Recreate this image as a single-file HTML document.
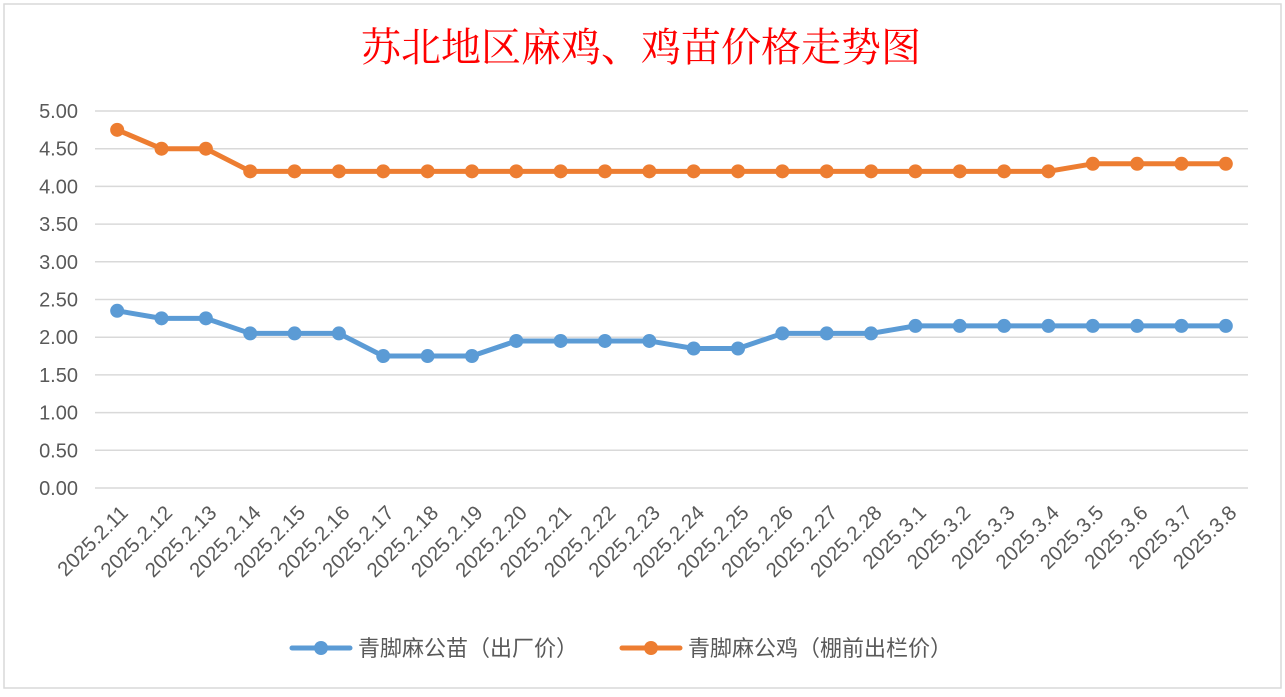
<!DOCTYPE html>
<html><head><meta charset="utf-8"><style>
body{margin:0;background:#fff;width:1285px;height:692px;overflow:hidden}
svg text{font-family:"Liberation Sans","Noto Sans CJK SC",sans-serif}
</style></head><body>
<svg id="c" width="1285" height="692">
<rect x="4" y="4" width="1277" height="684" fill="#fff" stroke="#d9d9d9" stroke-width="1.5"/>
<text x="641" y="61" text-anchor="middle" font-size="40" fill="#ff0000" style="font-family:'Liberation Serif','Noto Serif CJK SC',serif">苏北地区麻鸡、鸡苗价格走势图</text>
<g id="grid"></g><g id="xl"></g><g id="series"></g>
<g>
<line x1="292" y1="648" x2="350" y2="648" stroke="#5b9bd5" stroke-width="5" stroke-linecap="round"/>
<circle cx="321" cy="648" r="7" fill="#5b9bd5"/>
<text x="358" y="656" font-size="22" fill="#595959">青脚麻公苗（出厂价）</text>
<line x1="622" y1="648" x2="680" y2="648" stroke="#ed7d31" stroke-width="5" stroke-linecap="round"/>
<circle cx="651" cy="648" r="7" fill="#ed7d31"/>
<text x="688" y="656" font-size="22" fill="#595959">青脚麻公鸡（棚前出栏价）</text>
</g>
</svg>
<script>
const categories=["2025.2.11","2025.2.12","2025.2.13","2025.2.14","2025.2.15","2025.2.16","2025.2.17","2025.2.18","2025.2.19","2025.2.20","2025.2.21","2025.2.22","2025.2.23","2025.2.24","2025.2.25","2025.2.26","2025.2.27","2025.2.28","2025.3.1","2025.3.2","2025.3.3","2025.3.4","2025.3.5","2025.3.6","2025.3.7","2025.3.8"];
const chickPrice=[2.35,2.25,2.25,2.05,2.05,2.05,1.75,1.75,1.75,1.95,1.95,1.95,1.95,1.85,1.85,2.05,2.05,2.05,2.15,2.15,2.15,2.15,2.15,2.15,2.15,2.15];
const roosterPrice=[4.75,4.5,4.5,4.2,4.2,4.2,4.2,4.2,4.2,4.2,4.2,4.2,4.2,4.2,4.2,4.2,4.2,4.2,4.2,4.2,4.2,4.2,4.3,4.3,4.3,4.3];
const yTicks=[0,0.5,1,1.5,2,2.5,3,3.5,4,4.5,5];
const NS="http://www.w3.org/2000/svg";
const L=95,R=1248,Y0=488,Y1=111,yMax=5;
const y=v=>Y0-(v/yMax)*(Y0-Y1);
const step=(R-L)/categories.length;
const x=i=>L+step*(i+0.5);
function mk(t,a,p){const e=document.createElementNS(NS,t);for(const k in a)e.setAttribute(k,a[k]);p.appendChild(e);return e;}
const g=document.getElementById('grid');
yTicks.forEach(t=>{
 const l=mk('line',{x1:L,x2:R,y1:y(t),y2:y(t),stroke:'#d9d9d9','stroke-width':1.5},g);
 
 
 const tx=mk('text',{x:78,y:y(t)+7,'text-anchor':'end','font-size':20,fill:'#595959'},g);
 tx.textContent=t.toFixed(2);
 
 
});
const xl=document.getElementById('xl');
categories.forEach((c,i)=>{
 const tx=mk('text',{x:0,y:0,'text-anchor':'end','font-size':20.5,fill:'#595959',transform:`translate(${x(i)+12},${514}) rotate(-45)`},xl);
 tx.textContent=c;
 
 
});
const sg=document.getElementById('series');
[[chickPrice,'#5b9bd5','chick'],[roosterPrice,'#ed7d31','rooster']].forEach(([d,col,n])=>{
 const p=mk('polyline',{points:d.map((v,i)=>x(i)+','+y(v)).join(' '),fill:'none',stroke:col,'stroke-width':5,'stroke-linejoin':'round'},sg);
 
 
 d.forEach((v,i)=>{
  const c=mk('circle',{cx:x(i),cy:y(v),r:7,fill:col},sg);
  
  
 });
});
</script>
</body></html>
